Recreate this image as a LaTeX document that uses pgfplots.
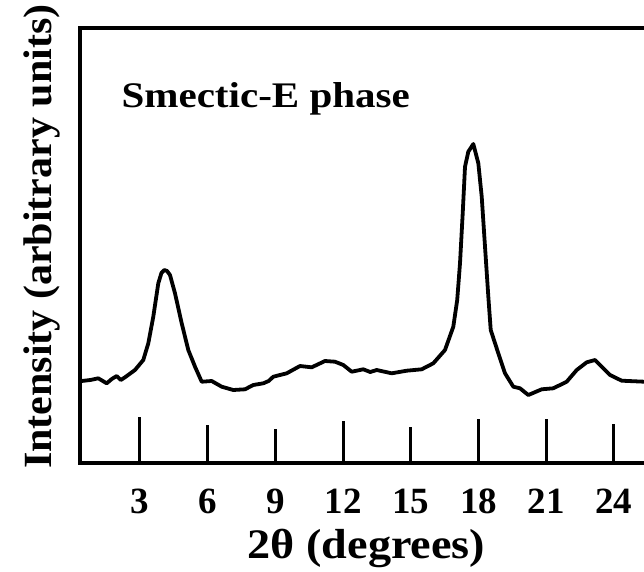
\documentclass[border=0pt]{standalone}
\usepackage{fontspec}
\setmainfont{Liberation Serif}
\usepackage{graphicx}
\usepackage{pgfplots}
\pgfplotsset{compat=1.18}
% the scanned figure is stretched sideways, so the text is widened a little
\newcommand\wide[2][1.17]{\scalebox{#1}[1]{#2}}
\begin{document}
\begin{tikzpicture}
\begin{axis}[name=ax, scale only axis, width=564pt, height=435pt,
  xmin=0.342, xmax=25.33, ymin=0, ymax=435,
  axis x line*=box, axis y line*=left,
  axis line style={line width=4pt, line cap=rect},
  xtick={3,6,...,24}, ytick=\empty, major tick length=0pt,
  /pgf/number format/assume math mode=true,
  xticklabel style={font=\fontsize{37}{37}\selectfont\bfseries, anchor=base, yshift=-50pt},
  every axis x label/.style={at={(axis description cs:0.508,0)}, anchor=base, yshift=-95pt,
    font=\fontsize{42}{42}\selectfont\bfseries},
  every axis y label/.style={at={(axis description cs:-0.05,0.52)}, rotate=90, anchor=base,
    font=\fontsize{40}{40}\selectfont\bfseries},
  xlabel={\wide[1.1]{2θ (degrees)}},
  ylabel={\wide[1.05]{Intensity (arbitrary units)}},
  clip=false]

% hand-drawn tick marks standing on the x axis
\addplot[ycomb, line width=3pt, mark=none] coordinates {
  (3,46) (6,38) (9,34) (12,42) (15,36) (18,44) (21,44) (24,39)
};

% diffraction trace
\addplot[line width=3.8pt, line join=round, mark=none] coordinates {
  (0.417,82) (0.8,83) (1.152,84.7) (1.525,79.7) (1.75,84) (1.968,87) (2.15,83)
  (2.335,85.7) (2.778,93) (3.146,103) (3.368,119.7) (3.589,146.3) (3.811,179.7)
  (3.95,190) (4.077,193) (4.2,192) (4.329,188) (4.551,169.7) (4.848,139.7)
  (5.14,113) (5.437,96.3) (5.734,81.3) (6.177,82) (6.62,76.3) (7.133,73)
  (7.652,73.7) (8.02,78) (8.463,79.7) (8.7,82) (8.906,86.3) (9.5,89.7)
  (10.089,97) (10.607,95.7) (11.197,102) (11.64,101.3) (12.008,98) (12.38,91.3)
  (12.894,93.7) (13.2,91) (13.487,93) (14.152,89.7) (14.816,92.3) (15.481,93.7)
  (15.995,99.7) (16.513,113) (16.881,136.3) (17.054,163) (17.178,199.7)
  (17.298,249.7) (17.4,296.3) (17.546,311.3) (17.768,319) (17.99,299.7)
  (18.14,266.3) (18.286,216.3) (18.433,166.3) (18.539,133) (18.875,109.7)
  (19.172,89.7) (19.54,76.3) (19.836,74.7) (20.204,68) (20.798,73.7)
  (21.312,74.7) (21.905,81.3) (22.349,93) (22.792,100.7) (23.16,103)
  (23.381,98) (23.824,88) (24.343,82.3) (25.33,81.3)
};

\node[anchor=base west, font=\fontsize{36}{36}\selectfont\bfseries]
  at (axis description cs:0.0674,0.818) {\wide[1.14]{Smectic-E phase}};
\end{axis}
\pgfresetboundingbox
\path[use as bounding box] (ax.south west) ++(-80pt,-108pt) rectangle ++(644pt,571pt);
\end{tikzpicture}
\end{document}
